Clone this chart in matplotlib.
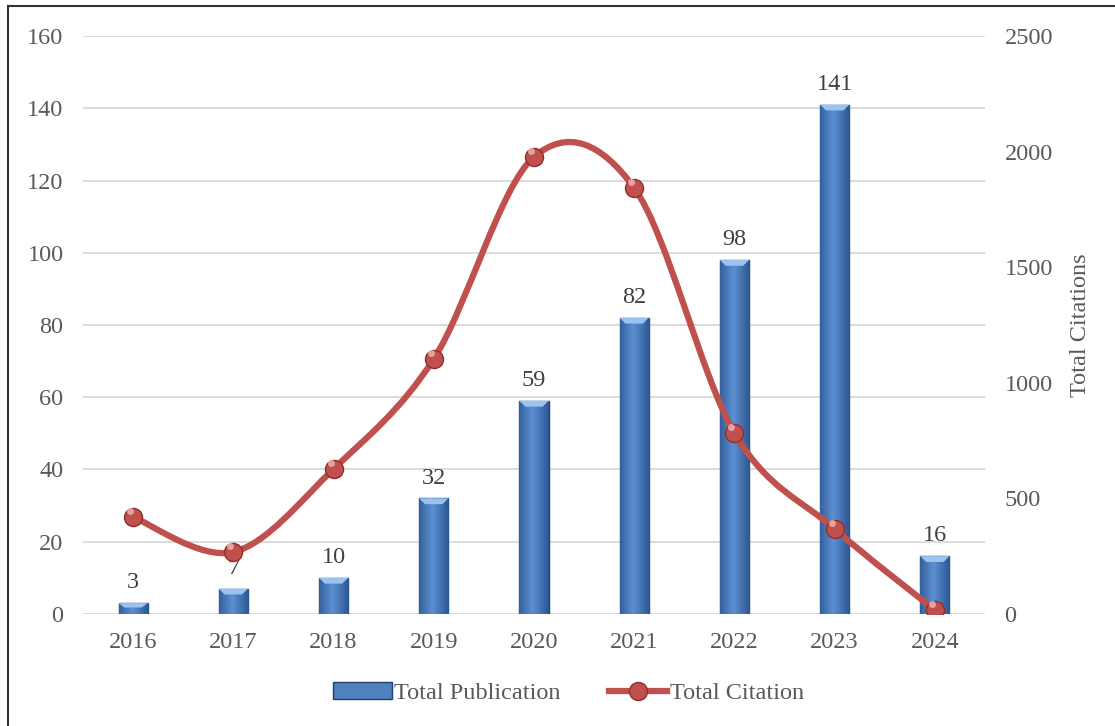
import matplotlib.pyplot as plt
import numpy as np
from matplotlib.lines import Line2D
from matplotlib.patches import Patch
from matplotlib.path import Path
from matplotlib.patches import PathPatch

plt.rcParams['font.family'] = ['Liberation Serif', 'DejaVu Serif']

years = ["2016", "2017", "2018", "2019", "2020", "2021", "2022", "2023", "2024"]
publications = [3, 7, 10, 32, 59, 82, 98, 141, 16]
citations = [419, 268, 627, 1103, 1977, 1843, 783, 368, 17]

text_color = "#595959"
bar_color = "#4F81BD"
line_color = "#C0504D"
fs = 17.5

fig = plt.figure(figsize=(11.15, 7.26), dpi=100)
ax = fig.add_axes([0.0744, 0.1543, 0.809, 0.7961])
ax2 = ax.twinx()

x = np.arange(len(years))
bars = ax.bar(x, publications, width=0.29, color=bar_color, edgecolor="#1F3F6E",
              linewidth=1.0, zorder=2)

# horizontal gradient shading on each bar
grad = np.linspace(0, 1, 64)
grad = 1 - np.abs(grad - 0.45) * 1.2
grad = np.tile(grad, (2, 1))
cmap = plt.matplotlib.colors.LinearSegmentedColormap.from_list("bar", ["#2B5690", "#5C90D2"])
for i, b in enumerate(bars):
    im = ax.imshow(grad, extent=[b.get_x(), b.get_x() + b.get_width(), 0, b.get_height()],
                   cmap=cmap, aspect="auto", zorder=2.1, origin="lower")
    im.set_clip_path(b)
    # light bevel at the top
    top = b.get_height()
    h = min(1.6, top * 0.4)
    w = b.get_width()
    x0 = b.get_x()
    bevel = plt.Polygon([[x0, top], [x0 + w, top], [x0 + w * 0.8, top - h], [x0 + w * 0.2, top - h]],
                        closed=True, facecolor="#9CC3F0", edgecolor="none", zorder=2.2)
    ax.add_patch(bevel)
    ax.annotate(f"{publications[i]}", xy=(x0 + w / 2, top),
                xytext=(0, 7), textcoords="offset points", ha="center", va="bottom",
                fontsize=fs, color="#404040", zorder=5)

ax.set_xlim(-0.5, len(years) - 0.5)
ax.set_ylim(0, 160)
ax.set_yticks(np.arange(0, 161, 20))
ax.set_xticks(x)
ax.set_xticklabels(years)
ax.grid(axis="y", color="#D9D9D9", linewidth=1.3, zorder=0)
ax.set_axisbelow(True)
ax.tick_params(axis="y", length=0, pad=14, labelsize=fs, labelcolor=text_color)
ax.tick_params(axis="x", length=0, pad=13, labelsize=fs, labelcolor=text_color)
for s in ax.spines.values():
    s.set_visible(False)

# smoothed line (Catmull-Rom style bezier like Excel)
pts = np.column_stack([x, citations]).astype(float)
verts = [pts[0]]
codes = [Path.MOVETO]
n = len(pts)
for i in range(n - 1):
    p0 = pts[i - 1] if i > 0 else pts[i]
    p1 = pts[i]
    p2 = pts[i + 1]
    p3 = pts[i + 2] if i + 2 < n else pts[i + 1]
    c1 = p1 + (p2 - p0) / 6
    c2 = p2 - (p3 - p1) / 6
    verts += [c1, c2, p2]
    codes += [Path.CURVE4] * 3
path = Path(verts, codes)
ax2.add_patch(PathPatch(path, facecolor="none", edgecolor=line_color, linewidth=4.5,
                        capstyle="round", zorder=3))
ax2.plot(x, citations, linestyle="none", marker="o", markersize=13,
         markerfacecolor=line_color, markeredgecolor="#8E2F2C", markeredgewidth=1, zorder=4)
ax2.plot(x - 0.03, np.array(citations) + 25, linestyle="none", marker="o", markersize=5,
         markerfacecolor="#F2B8B6", markeredgecolor="none", alpha=0.8, zorder=5)

ax2.set_ylim(0, 2500)
ax2.set_yticks(np.arange(0, 2501, 500))
ax2.tick_params(axis="y", length=0, pad=14, labelsize=fs, labelcolor=text_color)
ax2.set_ylabel("Total Citations", fontsize=fs, color=text_color, labelpad=12)
for s in ax2.spines.values():
    s.set_visible(False)

handles = [
    Patch(facecolor=bar_color, edgecolor="#1F3F6E"),
    Line2D([0], [0], color=line_color, linewidth=4.5, marker="o", markersize=13,
           markerfacecolor=line_color, markeredgecolor="#8E2F2C"),
]
fig.legend(handles, ["Total Publication", "Total Citation"], loc="center",
           bbox_to_anchor=(0.51, 0.045), ncol=2, frameon=False, fontsize=fs,
           labelcolor=text_color, handlelength=2.4, handletextpad=0.1, columnspacing=2.0)

# figure border (left and top visible)
fig.add_artist(Line2D([0.0075, 0.0075], [0, 0.992], color="#333333", linewidth=1.5,
                      transform=fig.transFigure))
fig.add_artist(Line2D([0.0075, 1], [0.992, 0.992], color="#333333", linewidth=1.5,
                      transform=fig.transFigure))

fig.savefig("out.png", dpi=100)
